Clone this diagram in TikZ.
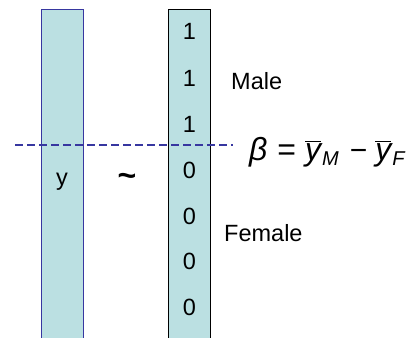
\documentclass[tikz,border=0pt]{standalone}
\usepackage{fontspec}
\setmainfont{Liberation Sans}
\usetikzlibrary{positioning}
\definecolor{ColFill}{RGB}{187,224,226}
\definecolor{ColEdge}{RGB}{55,55,160}
\newcommand{\barY}{$\overline{\hbox{\itshape y}}$}
\newcommand{\subLab}[1]{\raisebox{-5pt}{\fontsize{20}{22}\selectfont\itshape #1}}
\tikzset{
  col/.style={rectangle,fill=ColFill,minimum width=42pt,minimum height=340pt,inner sep=0pt,line width=1pt},
  entry/.style={font=\fontsize{23.5}{28}\selectfont,inner sep=0pt},
  lab/.style={font=\fontsize{23.5}{28}\selectfont,inner sep=0pt,anchor=west},
  split/.style={draw=ColEdge,line width=1.3pt,dash pattern=on 8pt off 4pt},
}

\begin{document}
\begin{tikzpicture}[x=1pt,y=-1pt]
\useasboundingbox (0,0) rectangle (408,338);
\node[col,draw=ColEdge] (ycol) at (62,179) {};
\node[col,draw=black] (xcol) at (189.5,179) {};
\node[entry,anchor=base] (yy) at (62,185) {y};
\node[entry] (x1) at (189.5,31.7) {1};
\node[entry] (x2) at (189.5,78) {1};
\node[entry] (x3) at (189.5,124) {1};
\node[entry] (x4) at (189.5,170) {0};
\node[entry] (x5) at (189.5,216) {0};
\node[entry] (x6) at (189.5,261) {0};
\node[entry] (x7) at (189.5,307) {0};
\node[inner sep=0pt,font=\fontsize{32}{36}\selectfont\bfseries] (tl) at (127,180) {\char"7E};
\coordinate (dl) at (15,145);
\coordinate (dr) at (233,145);
\draw[split] (dl) -- (dr);
\node[lab] (male) at (231,81) {Male};
\node[lab] (female) at (224,233) {Female};
% regression coefficient
\node[inner sep=0pt,anchor=base west,font=\fontsize{32}{36}\selectfont] (beta) at (249,160)
  {\textit{β}\hspace{10pt}=\hspace{9pt}\barY\hspace{1pt}\subLab{M}\hspace{11pt}{\fontsize{30}{34}\selectfont −}\hspace{8pt}\barY\hspace{1pt}\subLab{F}};
\end{tikzpicture}
\end{document}
